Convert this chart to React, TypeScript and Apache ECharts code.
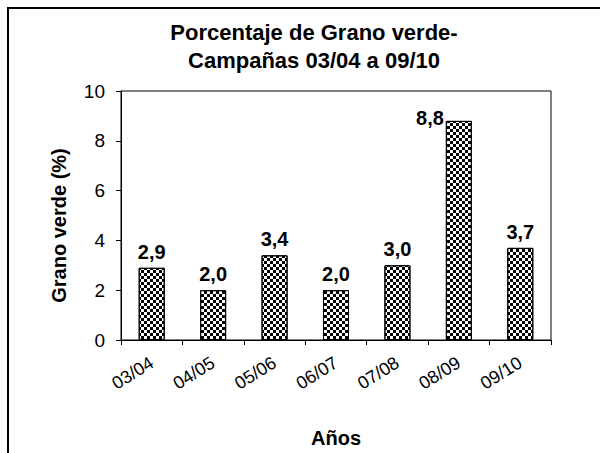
import React, { useEffect, useRef } from "react";
import * as echarts from "echarts";

const categories = ["03/04", "04/05", "05/06", "06/07", "07/08", "08/09", "09/10"];
const values = [2.9, 2.0, 3.4, 2.0, 3.0, 8.8, 3.7];
const titleLines = ["Porcentaje de Grano verde-", "Campañas 03/04 a 09/10"];
const yName = "Grano verde (%)";
const xName = "Años";

const FONT = "'Liberation Sans', Arial, sans-serif";

export default function App() {
  const ref = useRef<HTMLDivElement>(null);
  useEffect(() => {
    document.body.style.margin = "0";
    const chart = echarts.init(ref.current!, null, { renderer: "svg" });
    const decal = {
      symbol: "rect",
      symbolSize: 1,
      color: "#000",
      backgroundColor: "#fff",
      dashArrayX: [[3, 3], [0, 3, 3, 0]],
      dashArrayY: [3, 0],
      rotation: 0,
    };
    chart.setOption({
      animation: false,
      backgroundColor: "#fff",
      title: {
        text: titleLines.join("\n"),
        left: 309,
        textAlign: "center",
        top: 13,
        textStyle: { fontFamily: FONT, fontWeight: "bold", fontSize: 22, lineHeight: 28, color: "#000" },
      },
      graphic: [
        {
          type: "rect",
          shape: { x: 8, y: 8, width: 640, height: 500 },
          style: { fill: "none", stroke: "#000", lineWidth: 2 },
          silent: true,
        },
      ],
      grid: {
        left: 121,
        top: 91,
        width: 430,
        height: 250,
        show: true,
        borderColor: "#000",
        borderWidth: 1,
        backgroundColor: "transparent",
      },
      xAxis: {
        type: "category",
        data: categories,
        name: xName,
        nameLocation: "middle",
        nameGap: 88,
        nameTextStyle: { fontFamily: FONT, fontWeight: "bold", fontSize: 20, color: "#000" },
        axisLine: { lineStyle: { color: "#000", width: 1 } },
        axisTick: { show: true, alignWithLabel: false, length: 5, lineStyle: { color: "#000" } },
        axisLabel: { rotate: 32, fontFamily: FONT, fontSize: 18, color: "#000", margin: 21 },
        splitLine: { show: false },
      },
      yAxis: {
        type: "value",
        min: 0,
        max: 10,
        interval: 2,
        name: yName,
        nameLocation: "middle",
        nameGap: 52,
        nameTextStyle: { fontFamily: FONT, fontWeight: "bold", fontSize: 20, color: "#000", padding: [0, 20, 0, 0] },
        axisLine: { show: true, lineStyle: { color: "#000", width: 1 } },
        axisTick: { show: true, length: 5, lineStyle: { color: "#000" } },
        axisLabel: { fontFamily: FONT, fontSize: 19, color: "#000", margin: 16 },
        splitLine: { show: false },
      },
      series: [
        {
          type: "bar",
          barWidth: 26,
          data: values.map((v, i) =>
            i === 5
              ? {
                  value: v,
                  label: { position: [-2, -3], align: "right", verticalAlign: "middle" },
                }
              : v
          ),
          itemStyle: { color: "#fff", borderColor: "#000", borderWidth: 1, decal },
          label: {
            show: true,
            position: "top",
            distance: 6,
            formatter: (p: any) => p.value.toFixed(1).replace(".", ","),
            fontFamily: FONT,
            fontWeight: "bold",
            fontSize: 20,
            color: "#000",
          },
        },
      ],
    });
    return () => chart.dispose();
  }, []);
  return <div ref={ref} style={{ width: 600, height: 453 }} />;
}
